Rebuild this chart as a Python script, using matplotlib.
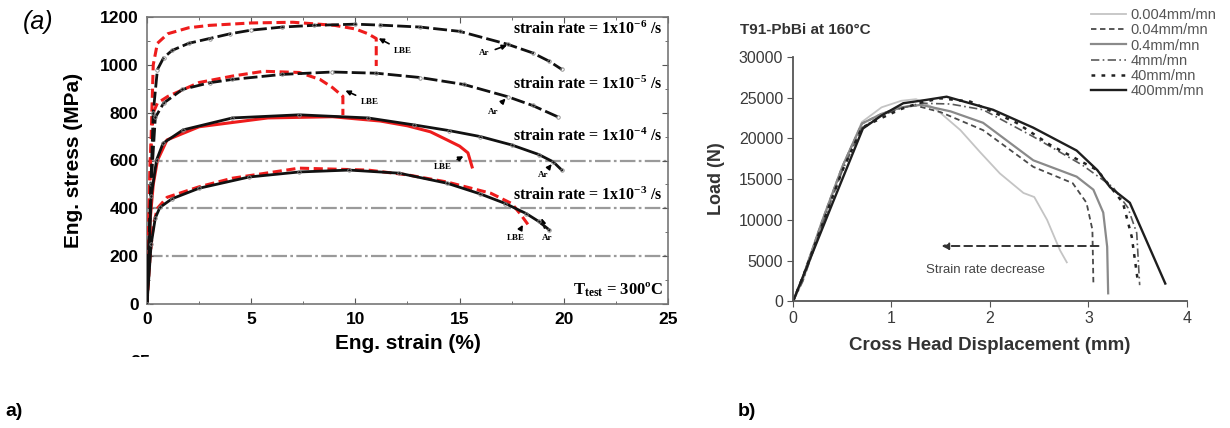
import matplotlib
matplotlib.use("Agg")
import matplotlib.pyplot as plt
from matplotlib.lines import Line2D
from matplotlib.transforms import Bbox

plt.rcParams['font.family'] = ['Liberation Sans', 'DejaVu Sans']
plt.rcParams['mathtext.fontset'] = 'custom'
plt.rcParams['mathtext.rm'] = 'Liberation Serif:bold'
plt.rcParams['mathtext.it'] = 'Liberation Serif:bold'
plt.rcParams['mathtext.bf'] = 'Liberation Serif:bold'

# ---- panel a: eng. stress-strain, Ar vs LBE at four strain rates ----
ar_6_x = [0, 0.3, 0.5, 0.8, 1.2, 2, 3, 4, 5, 6.5, 8, 10, 11.2, 13.1, 15, 17.3, 18.5, 19.3, 19.9]
ar_6_y = [0, 800, 980, 1030, 1060, 1090, 1110, 1130, 1145, 1158, 1165, 1170, 1166, 1158, 1140, 1086, 1050, 1015, 981]
lbe_6_x = [0, 0.2, 0.3, 0.5, 1, 2, 3, 5, 7, 9, 10, 10.6, 11.0, 11.0]
lbe_6_y = [0, 700, 1000, 1090, 1130, 1155, 1165, 1175, 1178, 1165, 1150, 1130, 1110, 995]

ar_5_x = [0, 0.2, 0.4, 0.8, 1.7, 3, 4.1, 6.5, 8.9, 11, 13.1, 15.2, 17.3, 18.5, 19.7]
ar_5_y = [0, 500, 780, 840, 897, 925, 939, 960, 970, 965, 947, 918, 867, 830, 783]
lbe_5_x = [0, 0.15, 0.3, 0.5, 1.0, 2.5, 4.1, 5.6, 7.3, 8.3, 8.9, 9.4, 9.4]
lbe_5_y = [0, 600, 800, 840, 868, 926, 953, 973, 968, 939, 905, 868, 790]

ar_4_x = [0, 0.2, 0.46, 0.77, 1.73, 4.1, 7.3, 10.6, 12.8, 14.5, 16, 17.5, 18.8, 19.5, 19.9]
ar_4_y = [0, 450, 602, 672, 728, 778, 791, 778, 749, 725, 700, 665, 625, 594, 560]
lbe_4_x = [0, 0.15, 0.3, 0.5, 0.96, 2.5, 5.8, 8.9, 11.2, 12.5, 13.6, 14.4, 15.0, 15.4, 15.6]
lbe_4_y = [0, 350, 500, 600, 686, 741, 778, 783, 765, 745, 720, 686, 660, 632, 573]

ar_3_x = [0, 0.2, 0.4, 0.62, 1.2, 2.5, 4.9, 7.3, 9.7, 12.1, 14.4, 16.0, 17.2, 18.2, 18.8, 19.3]
ar_3_y = [0, 250, 360, 404, 440, 484, 531, 552, 560, 547, 505, 460, 420, 378, 345, 310]
lbe_3_x = [0, 0.15, 0.3, 0.5, 0.96, 2.5, 4.1, 7.3, 10.6, 12.5, 14.4, 16.5, 17.5, 17.9, 18.3]
lbe_3_y = [0, 200, 330, 400, 446, 490, 526, 568, 560, 540, 510, 463, 420, 378, 330]

rate_labels = ['-6', '-5', '-4', '-3']
rate_label_y = [1149, 918, 699, 455]
ref_lines = [200, 400, 600]

# ---- panel b: load vs cross head displacement ----
speeds = ['0.004mm/mn', '0.04mm/mn', '0.4mm/mn', '4mm/mn', '40mm/mn', '400mm/mn']
d_0004 = [0, 0.1, 0.3, 0.5, 0.7, 0.9, 1.1, 1.25, 1.45, 1.7, 1.9, 2.1, 2.34, 2.45, 2.58, 2.71, 2.78]
f_0004 = [0, 2500, 9500, 16500, 22000, 23800, 24600, 24800, 23600, 21000, 18300, 15700, 13300, 12800, 10000, 6300, 4800]
d_004 = [0, 0.1, 0.3, 0.5, 0.7, 0.9, 1.1, 1.25, 1.5, 1.93, 2.44, 2.84, 2.98, 3.04, 3.05]
f_004 = [0, 3000, 10000, 16500, 21800, 23000, 23800, 24000, 23200, 21000, 16500, 14500, 12100, 8800, 2300]
d_04 = [0, 0.1, 0.3, 0.5, 0.7, 0.9, 1.1, 1.3, 1.6, 1.93, 2.44, 2.88, 3.05, 3.15, 3.19, 3.2]
f_04 = [0, 3000, 10000, 16500, 21800, 23000, 23800, 24100, 23300, 21900, 17300, 15300, 13700, 10900, 6700, 1000]
d_4 = [0, 0.1, 0.3, 0.5, 0.7, 0.9, 1.1, 1.3, 1.6, 1.93, 2.44, 2.94, 3.25, 3.4, 3.49, 3.52]
f_4 = [0, 2500, 9500, 16000, 21300, 22800, 23700, 24300, 24200, 23500, 20200, 16700, 14000, 11500, 8400, 2000]
d_40 = [0, 0.1, 0.3, 0.5, 0.7, 0.9, 1.1, 1.3, 1.5, 1.8, 2.27, 2.61, 3.09, 3.35, 3.44, 3.5]
f_40 = [0, 3000, 9500, 16000, 21300, 22500, 23600, 24400, 24900, 24500, 21900, 19200, 16100, 12100, 7900, 2600]
d_400 = [0, 0.4, 0.71, 0.9, 1.12, 1.35, 1.56, 2.03, 2.44, 2.88, 3.09, 3.22, 3.42, 3.78]
f_400 = [0, 12000, 21200, 22800, 24300, 24700, 25100, 23500, 21300, 18500, 16100, 14000, 12100, 2200]

fig = plt.figure(figsize=(12.3, 4.28), dpi=100)

# ================= panel a =================
ax1 = fig.add_axes([0.1195, 0.2897, 0.4236, 0.6706])
for yv in ref_lines:
    ax1.axhline(yv, color='#9a9a9a', lw=1.6, ls=(0, (7, 1.5, 1.2, 1.5)), zorder=1)

groups = [
    (ar_6_x, ar_6_y, lbe_6_x, lbe_6_y, (0, (5, 1.5)), (0, (3, 1.5))),
    (ar_5_x, ar_5_y, lbe_5_x, lbe_5_y, (0, (5, 1.5)), (0, (3, 1.5))),
    (ar_4_x, ar_4_y, lbe_4_x, lbe_4_y, '-', '-'),
    (ar_3_x, ar_3_y, lbe_3_x, lbe_3_y, '-', (0, (3, 1.5))),
]
for ax_, ay_, lx_, ly_, ls_ar, ls_lbe in groups:
    ax1.plot(lx_, ly_, color='#ee1c1c', lw=2.2, ls=ls_lbe, zorder=3)
    ax1.plot(ax_, ay_, color='#111111', lw=2.0, ls=ls_ar, zorder=4,
             marker='o', ms=2.5, mfc='none', mec='#888888', mew=0.6)

ax1.set_xlim(0, 25)
ax1.set_ylim(0, 1200)
ax1.set_xticks([0, 5, 10, 15, 20, 25])
ax1.set_xticks([2.5, 7.5, 12.5, 17.5, 22.5], minor=True)
ax1.set_yticks([0, 200, 400, 600, 800, 1000, 1200])
ax1.set_yticks(range(100, 1200, 200), minor=True)
ax1.tick_params(which='both', direction='in', top=True, right=True, color='#555555')
ax1.tick_params(which='major', length=4, labelsize=12.5, pad=6)
ax1.tick_params(which='minor', length=2.5)
for lab in ax1.get_xticklabels() + ax1.get_yticklabels():
    lab.set_fontweight('bold')
for s in ax1.spines.values():
    s.set_color('#777777')
    s.set_linewidth(1.2)
ax1.set_xlabel('Eng. strain (%)', fontsize=15, fontweight='bold', labelpad=5)
ax1.set_ylabel('Eng. stress (MPa)', fontsize=15, fontweight='bold', labelpad=12)

for lab, yv in zip(rate_labels, rate_label_y):
    ax1.text(24.75, yv, r'strain rate = 1x10$^{' + lab + r'}$ /s', ha='right', va='center',
             fontsize=11.5, fontweight='bold', family='Liberation Serif')
ax1.text(24.75, 60, r'T$_{\rm test}$ = 300ºC', ha='right', va='center',
         fontsize=12, fontweight='bold', family='Liberation Serif')

notes = [
    ('LBE', (11.0, 1116), (12.3, 1057)),
    ('Ar', (17.4, 1086), (16.2, 1048)),
    ('LBE', (9.4, 897), (10.7, 846)),
    ('Ar', (17.3, 867), (16.6, 804)),
    ('LBE', (15.3, 623), (14.2, 573)),
    ('Ar', (19.5, 594), (19.0, 539)),
    ('LBE', (18.1, 341), (17.7, 278)),
    ('Ar', (18.9, 370), (19.2, 278)),
]
for txt, xy, xyt in notes:
    ax1.annotate(txt, xy=xy, xytext=xyt, ha='center', va='center', fontsize=6.5,
                 fontweight='bold', family='Liberation Serif',
                 arrowprops=dict(arrowstyle='-|>', color='black', lw=1.2, mutation_scale=7))

fig.text(23 / 1230, 1 - 22 / 428, '(a)', fontsize=18, style='italic', ha='left', va='center')
# stray tick label from the cropped figure underneath, only its top is visible
frag = fig.text(140 / 1230, 1 - 363 / 428, '25', fontsize=13, fontweight='bold', ha='center', va='center')
frag.set_clip_on(True)
frag.set_clip_box(Bbox.from_extents(0, 428 - 357, 1230, 428))

# ================= panel b =================
ax2 = fig.add_axes([0.6447, 0.2956, 0.3203, 0.5719])
styles = [
    dict(color='#c4c4c4', lw=1.3, ls='-'),
    dict(color='#4a4a4a', lw=1.3, ls=(0, (3, 2))),
    dict(color='#8a8a8a', lw=1.6, ls='-'),
    dict(color='#5a5a5a', lw=1.2, ls=(0, (5, 2, 1, 2))),
    dict(color='#222222', lw=1.8, ls=(0, (1.5, 2.5))),
    dict(color='#1e1e1e', lw=1.7, ls='-'),
]
series = [(d_0004, f_0004), (d_004, f_004), (d_04, f_04), (d_4, f_4), (d_40, f_40), (d_400, f_400)]
handles = []
for (dx, fy), st, name in zip(series, styles, speeds):
    ax2.plot(dx, fy, **st)
    handles.append(Line2D([], [], **st, label=name))

ax2.annotate('', xy=(1.48, 6800), xytext=(3.13, 6800),
             arrowprops=dict(arrowstyle='-|>', color='#333333', lw=1.4, ls=(0, (4, 2.5)),
                             mutation_scale=10))
ax2.text(1.95, 3900, 'Strain rate decrease', ha='center', va='center', fontsize=9.5, color='#444444')

ax2.set_xlim(0, 4)
ax2.set_ylim(0, 30000)
ax2.set_xticks([0, 1, 2, 3, 4])
ax2.set_yticks(range(0, 30001, 5000))
ax2.spines['top'].set_visible(False)
ax2.spines['right'].set_visible(False)
for s in ('left', 'bottom'):
    ax2.spines[s].set_color('#555555')
    ax2.spines[s].set_linewidth(1.3)
ax2.tick_params(direction='out', length=4, color='#555555', labelsize=11.5, labelcolor='#3a3a3a', pad=3)
ax2.set_xlabel('Cross Head Displacement (mm)', fontsize=13.5, fontweight='bold', color='#333333', labelpad=8)
ax2.set_ylabel('Load (N)', fontsize=13, fontweight='bold', color='#333333', labelpad=10)

fig.text(740 / 1230, 1 - 30 / 428, 'T91-PbBi at 160°C', fontsize=11, fontweight='bold',
         color='#333333', ha='left', va='center')
fig.legend(handles=handles, loc='upper left', bbox_to_anchor=(1081 / 1230, 1 + 2 / 428),
           frameon=False, fontsize=10.5, labelcolor='#555555', handlelength=2.4,
           handletextpad=0.3, labelspacing=0.08, borderpad=0.2)

fig.text(5 / 1230, 1 - 411 / 428, 'a)', fontsize=14, fontweight='bold', ha='left', va='center')
fig.text(738 / 1230, 1 - 411 / 428, 'b)', fontsize=14, fontweight='bold', ha='left', va='center')

fig.savefig('out.png', dpi=100)
